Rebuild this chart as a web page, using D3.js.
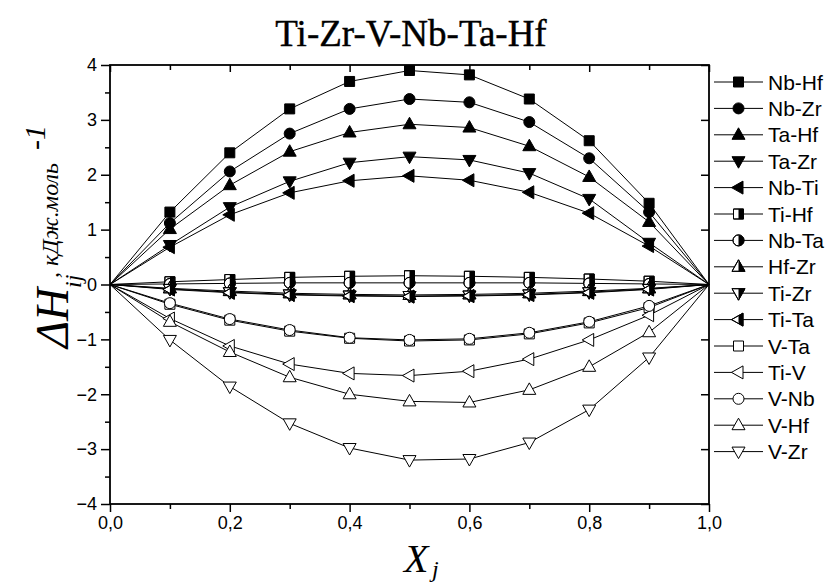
<!DOCTYPE html>
<html>
<head>
<meta charset="utf-8">
<script src="https://cdn.jsdelivr.net/npm/d3@7"></script>
<style>
  body { margin: 0; background: #fff; }
  svg { display: block; }
</style>
</head>
<body>
<svg id="chart" width="833" height="585"></svg>
<script>
// Mole fraction of component j
const xValues = [0, 0.1, 0.2, 0.3, 0.4, 0.5, 0.6, 0.7, 0.8, 0.9, 1.0];

// Mixing enthalpy of each binary pair, kJ/mol
const nbHf = [0, 1.32, 2.40, 3.20, 3.70, 3.90, 3.82, 3.38, 2.62, 1.48, 0];
const nbZr = [0, 1.12, 2.06, 2.75, 3.20, 3.38, 3.32, 2.96, 2.30, 1.32, 0];
const taHf = [0, 1.01, 1.81, 2.42, 2.77, 2.92, 2.86, 2.52, 1.96, 1.14, 0];
const taZr = [0, 0.72, 1.41, 1.88, 2.22, 2.33, 2.27, 2.03, 1.56, 0.76, 0];
const nbTi = [0, 0.68, 1.27, 1.67, 1.89, 1.98, 1.90, 1.68, 1.30, 0.70, 0];
const tiHf = [0, 0.05, 0.09, 0.13, 0.15, 0.16, 0.15, 0.13, 0.10, 0.06, 0];
const nbTa = [0, 0.01, 0.02, 0.03, 0.03, 0.03, 0.03, 0.03, 0.02, 0.01, 0];
const hfZr = [0, -0.07, -0.12, -0.16, -0.18, -0.19, -0.18, -0.16, -0.12, -0.07, 0];
const tiZr = [0, -0.08, -0.14, -0.18, -0.20, -0.21, -0.20, -0.18, -0.14, -0.08, 0];
const tiTa = [0, -0.09, -0.15, -0.19, -0.21, -0.22, -0.21, -0.19, -0.15, -0.09, 0];
const vTa  = [0, -0.36, -0.65, -0.85, -0.98, -1.03, -1.01, -0.90, -0.70, -0.42, 0];
const tiV  = [0, -0.62, -1.12, -1.45, -1.62, -1.66, -1.58, -1.36, -1.01, -0.56, 0];
const vNb  = [0, -0.34, -0.63, -0.83, -0.97, -1.01, -0.99, -0.88, -0.68, -0.39, 0];
const vHf  = [0, -0.68, -1.23, -1.69, -2.00, -2.13, -2.15, -1.92, -1.50, -0.87, 0];
const vZr  = [0, -1.01, -1.86, -2.53, -2.98, -3.20, -3.18, -2.88, -2.28, -1.33, 0];

const seriesNames = ["Nb-Hf", "Nb-Zr", "Ta-Hf", "Ta-Zr", "Nb-Ti", "Ti-Hf", "Nb-Ta", "Hf-Zr",
                     "Ti-Zr", "Ti-Ta", "V-Ta", "Ti-V", "V-Nb", "V-Hf", "V-Zr"];
const seriesData = [nbHf, nbZr, taHf, taZr, nbTi, tiHf, nbTa, hfZr, tiZr, tiTa, vTa, tiV, vNb, vHf, vZr];
// marker shape and fill style: full, half (right half black) or open
const seriesShapes = ["square", "circle", "triUp", "triDown", "triLeft", "square", "circle", "triUp",
                      "triDown", "triLeft", "square", "triLeft", "circle", "triUp", "triDown"];
const seriesFills = ["full", "full", "full", "full", "full", "half", "half", "half",
                     "half", "half", "open", "open", "open", "open", "open"];

const xTickValues = [0, 0.2, 0.4, 0.6, 0.8, 1.0];
const yTickValues = [-4, -3, -2, -1, 0, 1, 2, 3, 4];

const svg = d3.select("#chart");
const margin = { left: 110, right: 124, top: 65, bottom: 81 };
const W = 833, H = 585;
const x = d3.scaleLinear().domain([0, 1]).range([margin.left, W - margin.right]);
const y = d3.scaleLinear().domain([-4, 4]).range([H - margin.bottom, margin.top]);

const sans = "'Liberation Sans', Arial, sans-serif";
const serif = "'Liberation Serif', 'Times New Roman', serif";

// marker outlines centred on the origin
const shapePaths = {
  square: "M-5,-5H5V5H-5Z",
  circle: "M-5.5,0A5.5,5.5 0 1 0 5.5,0A5.5,5.5 0 1 0 -5.5,0Z",
  triUp: "M0,-7L6.5,4.5L-6.5,4.5Z",
  triDown: "M0,7L6.5,-4.5L-6.5,-4.5Z",
  triLeft: "M-7,0L4.5,-6.5L4.5,6.5Z"
};

const defs = svg.append("defs");
defs.append("clipPath").attr("id", "rightHalf")
  .append("rect").attr("x", 0).attr("y", -20).attr("width", 20).attr("height", 40);

function drawMarker(g, shape, fill) {
  const d = shapePaths[shape];
  g.append("path").attr("d", d)
    .attr("fill", fill === "full" ? "#000" : "#fff")
    .attr("stroke", "#000").attr("stroke-width", 1);
  if (fill === "half") {
    g.append("path").attr("d", d).attr("fill", "#000").attr("clip-path", "url(#rightHalf)");
    g.append("path").attr("d", d).attr("fill", "none").attr("stroke", "#000").attr("stroke-width", 1);
  }
}

// axis frame with ticks
const xBottom = d3.axisBottom(x).tickValues(xTickValues).tickSize(8).tickPadding(4)
  .tickFormat(d => d3.format(".1f")(d).replace(".", ","));
const xBottomMinor = d3.axisBottom(x).tickValues(d3.range(0.1, 1, 0.2)).tickSize(5).tickFormat("");
const xTop = d3.axisBottom(x).tickValues(xTickValues).tickSize(7).tickFormat("");
const xTopMinor = d3.axisBottom(x).tickValues(d3.range(0.1, 1, 0.2)).tickSize(5).tickFormat("");
const yLeft = d3.axisLeft(y).tickValues(yTickValues).tickSize(9).tickPadding(4).tickFormat(d3.format("d"));
const yLeftMinor = d3.axisLeft(y).tickValues(d3.range(-3.5, 4, 1)).tickSize(5).tickFormat("");
const yRight = d3.axisLeft(y).tickValues(yTickValues).tickSize(8).tickFormat("");

function styleAxis(g) {
  g.selectAll(".domain").remove();
  g.selectAll("line").attr("stroke", "#000").attr("stroke-width", 1.5);
  g.selectAll("text").attr("font-family", sans).attr("font-size", 18).attr("fill", "#000");
}

svg.append("g").attr("transform", `translate(0,${y(-4)})`).call(xBottom).call(styleAxis);
svg.append("g").attr("transform", `translate(0,${y(-4)})`).call(xBottomMinor).call(styleAxis);
svg.append("g").attr("transform", `translate(0,${y(4)})`).call(xTop).call(styleAxis);
svg.append("g").attr("transform", `translate(0,${y(4)})`).call(xTopMinor).call(styleAxis);
svg.append("g").attr("transform", `translate(${x(0)},0)`).call(yLeft).call(styleAxis);
svg.append("g").attr("transform", `translate(${x(0)},0)`).call(yLeftMinor).call(styleAxis);
svg.append("g").attr("transform", `translate(${x(1)},0)`).call(yRight).call(styleAxis);

svg.append("rect")
  .attr("x", x(0)).attr("y", y(4))
  .attr("width", x(1) - x(0)).attr("height", y(-4) - y(4))
  .attr("fill", "none").attr("stroke", "#000").attr("stroke-width", 1.8);

// curves
const line = d3.line().x((d, i) => x(xValues[i])).y(d => y(d));
const plot = svg.append("g");
seriesData.forEach((vals, k) => {
  plot.append("path").datum(vals).attr("d", line)
    .attr("fill", "none").attr("stroke", "#000").attr("stroke-width", 1);
});
seriesData.forEach((vals, k) => {
  vals.forEach((v, i) => {
    if (i === 0 || i === vals.length - 1) return;
    const g = plot.append("g").attr("transform", `translate(${x(xValues[i])},${y(v)})`);
    drawMarker(g, seriesShapes[k], seriesFills[k]);
  });
});

// legend
const legend = svg.append("g");
seriesNames.forEach((name, k) => {
  const ly = 82 + k * 26.4;
  legend.append("line").attr("x1", 714).attr("x2", 763).attr("y1", ly).attr("y2", ly)
    .attr("stroke", "#000").attr("stroke-width", 1);
  const g = legend.append("g").attr("transform", `translate(738.5,${ly})`);
  drawMarker(g, seriesShapes[k], seriesFills[k]);
  legend.append("text").attr("x", 768).attr("y", ly + 7.5)
    .attr("font-family", sans).attr("font-size", 21).attr("fill", "#000").text(name);
});

// title
svg.append("text").attr("x", 411).attr("y", 46).attr("text-anchor", "middle")
  .attr("font-family", serif).attr("font-size", 37).attr("fill", "#000")
  .attr("stroke", "#000").attr("stroke-width", 0.4)
  .text("Ti-Zr-V-Nb-Ta-Hf");

// x-axis title
svg.append("text").attr("x", 404).attr("y", 572)
  .attr("font-family", serif).attr("font-style", "italic").attr("font-size", 40).attr("fill", "#000")
  .text("X");
svg.append("text").attr("x", 432).attr("y", 577)
  .attr("font-family", serif).attr("font-style", "italic").attr("font-size", 24).attr("fill", "#000")
  .text("j");

// y-axis title, drawn rotated
function vText(tx, ty, size, str) {
  svg.append("text").attr("transform", `translate(${tx},${ty}) rotate(-90)`)
    .attr("font-family", serif).attr("font-style", "italic").attr("font-size", size)
    .attr("fill", "#000").text(str);
}
vText(68, 348, 46, "ΔH");
vText(81, 288, 24, "ij");
vText(58, 278, 24, ", кДж.моль");
vText(45, 150, 30, "-1");
</script>
</body>
</html>
